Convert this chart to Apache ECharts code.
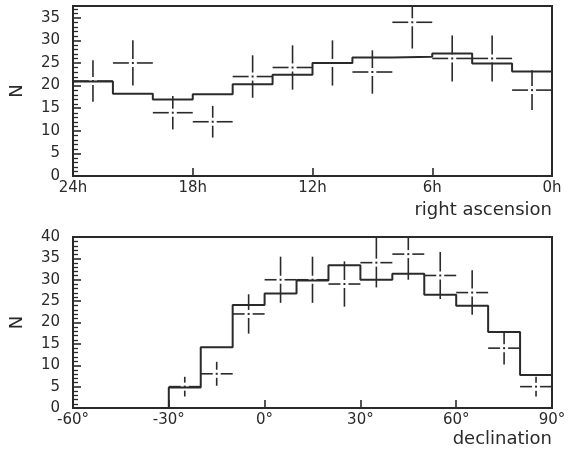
<!DOCTYPE html>
<html>
<head>
<meta charset="utf-8">
<script src="https://cdn.jsdelivr.net/npm/echarts@6/dist/echarts.min.js"></script>
<style>
html,body{margin:0;padding:0;background:#fff;}
#chart{width:575px;height:455px;}
</style>
</head>
<body>
<div id="chart"></div>
<script>
// ---- Right ascension panel (hours, 2h bins from 24h down to 0h) ----
var raBinEdges   = [24, 22, 20, 18, 16, 14, 12, 10, 8, 6, 4, 2, 0];
var raHist       = [20.9, 18.2, 16.9, 18.1, 20.3, 22.4, 25.0, 26.2, 26.4, 27.1, 24.9, 23.1];
var raBinCenters = [23, 21, 19, 17, 15, 13, 11, 9, 7, 5, 3, 1];
var raCounts     = [21, 25, 14, 12, 22, 24, 25, 23, 34, 26, 26, 19];
var raErrors     = [4.6, 5.0, 3.7, 3.5, 4.7, 4.9, 5.0, 4.8, 5.8, 5.1, 5.1, 4.4];
var raTicks      = [24, 18, 12, 6, 0];

// ---- Declination panel (degrees, 10 deg bins from -60 to 90) ----
var decBinEdges   = [-60, -50, -40, -30, -20, -10, 0, 10, 20, 30, 40, 50, 60, 70, 80, 90];
var decHist       = [0, 0, 0, 4.8, 14.2, 24.1, 26.8, 29.8, 33.4, 30.0, 31.4, 26.5, 23.9, 17.8, 7.7];
var decBinCenters = [-25, -15, -5, 5, 15, 25, 35, 45, 55, 65, 75, 85];
var decCounts     = [5, 8, 22, 30, 30, 29, 34, 36, 31, 27, 14, 5];
var decErrors     = [2.3, 2.8, 4.6, 5.4, 5.4, 5.3, 5.8, 6.0, 5.5, 5.2, 3.8, 2.3];
var decTicks      = [-60, -30, 0, 30, 60, 90];

// ---- minor tick values on the N axes ----
var nMinorTop    = [1, 2, 3, 4, 6, 7, 8, 9, 11, 12, 13, 14, 16, 17, 18, 19, 21, 22, 23, 24, 26, 27, 28, 29, 31, 32, 33, 34, 36, 37];
var nMinorBottom = [1, 2, 3, 4, 6, 7, 8, 9, 11, 12, 13, 14, 16, 17, 18, 19, 21, 22, 23, 24, 26, 27, 28, 29, 31, 32, 33, 34, 36, 37, 38, 39];

var INK = '#2a2a2a';
var FONT = 'DejaVu Sans';

function stepData(edges, vals) {
  var d = [];
  for (var i = 0; i < vals.length; i++) d.push([edges[i], vals[i]]);
  d.push([edges[edges.length - 1], vals[vals.length - 1]]);
  return d;
}
function crossData(c, n, e) {
  var d = [];
  for (var i = 0; i < c.length; i++) d.push([c[i], n[i], e[i]]);
  return d;
}
function tickData(xEdge, vals) {
  var d = [];
  for (var i = 0; i < vals.length; i++) d.push([xEdge, vals[i]]);
  return d;
}
function crossRender(halfWidth) {
  return function (params, api) {
    var x = api.value(0), y = api.value(1), e = api.value(2);
    var cs = params.coordSys;
    var c = api.coord([x, y]);
    var a = api.coord([x - halfWidth, y])[0], b = api.coord([x + halfWidth, y])[0];
    var l = Math.min(a, b), r = Math.max(a, b);
    var top = Math.max(api.coord([x, y + e])[1], cs.y);
    var bot = Math.min(api.coord([x, y - e])[1], cs.y + cs.height);
    var g = 4;
    var st = {stroke: INK, lineWidth: 1.6};
    var kids = [
      {type: 'line', shape: {x1: l, y1: c[1], x2: c[0] - g, y2: c[1]}, style: st},
      {type: 'line', shape: {x1: c[0] + g, y1: c[1], x2: r, y2: c[1]}, style: st},
      {type: 'line', shape: {x1: c[0], y1: top, x2: c[0], y2: c[1] - g}, style: st},
      {type: 'line', shape: {x1: c[0], y1: c[1] + g, x2: c[0], y2: bot}, style: st},
      {type: 'rect', shape: {x: c[0] - 1, y: c[1] - 1, width: 2, height: 2}, style: {fill: INK}}
    ];
    return {type: 'group', children: kids};
  };
}
function minorTickRender(params, api) {
  var p = api.coord([api.value(0), api.value(1)]);
  var x0 = params.coordSys.x;
  var py = Math.round(p[1]) + 0.5;
  return {type: 'line', shape: {x1: x0, y1: py, x2: x0 + 5, y2: py},
          style: {stroke: INK, lineWidth: 1.3}};
}

function xAxisDef(gi, min, max, ticks, suffix, inverse) {
  return {
    gridIndex: gi, type: 'value', min: min, max: max, interval: 6 * (suffix === 'h' ? 1 : 5),
    inverse: inverse, position: 'bottom',
    axisLine: {show: true, onZero: false, lineStyle: {color: INK, width: 2}},
    axisTick: {show: true, inside: true, length: 8, lineStyle: {color: INK, width: 1.6}},
    axisLabel: {
      margin: 5, fontSize: 15, fontFamily: FONT, color: INK,
      formatter: function (v) { return ticks.indexOf(v) >= 0 ? v + suffix : ''; }
    },
    splitLine: {show: false}
  };
}
function yMain(gi, max) {
  return {
    gridIndex: gi, type: 'value', min: 0, max: max, interval: 5, position: 'left',
    axisLine: {show: true, onZero: false, lineStyle: {color: INK, width: 2}},
    axisTick: {show: true, inside: true, length: 8, lineStyle: {color: INK, width: 1.6}},
    axisLabel: {
      margin: 13, fontSize: 15, fontFamily: FONT, color: INK,
      formatter: function (v) { return v % 5 === 0 ? String(v) : ''; }
    },
    splitLine: {show: false},
    name: 'N', nameLocation: 'middle', nameGap: 47, nameRotate: 90,
    nameTextStyle: {fontSize: 18, fontFamily: FONT, color: INK}
  };
}

var chart = echarts.init(document.getElementById('chart'), null, {renderer: 'canvas'});
chart.setOption({
  animation: false,
  backgroundColor: '#fff',
  grid: [
    {left: 73, right: 23, top: 6, height: 170, show: true, borderColor: INK, borderWidth: 2, containLabel: false},
    {left: 73, right: 23, top: 237, height: 171, show: true, borderColor: INK, borderWidth: 2, containLabel: false}
  ],
  xAxis: [
    xAxisDef(0, 0, 24, raTicks, 'h', true),
    xAxisDef(1, -60, 90, decTicks, '\u00b0', false)
  ],
  yAxis: [yMain(0, 37.6), yMain(1, 40)],
  graphic: [
    {type: 'text', right: 23, top: 201, style: {text: 'right ascension', font: '18px "DejaVu Sans"', fill: INK}},
    {type: 'text', right: 23, top: 430, style: {text: 'declination', font: '18px "DejaVu Sans"', fill: INK}}
  ],
  series: [
    {type: 'custom', xAxisIndex: 0, yAxisIndex: 0, renderItem: minorTickRender,
     data: tickData(24, nMinorTop), z: 5, silent: true},
    {type: 'custom', xAxisIndex: 1, yAxisIndex: 1, renderItem: minorTickRender,
     data: tickData(-60, nMinorBottom), z: 5, silent: true},
    {type: 'line', xAxisIndex: 0, yAxisIndex: 0, step: 'end', symbol: 'none',
     lineStyle: {color: INK, width: 2}, data: stepData(raBinEdges, raHist), z: 3},
    {type: 'custom', xAxisIndex: 0, yAxisIndex: 0, renderItem: crossRender(1),
     data: crossData(raBinCenters, raCounts, raErrors), z: 4},
    {type: 'line', xAxisIndex: 1, yAxisIndex: 1, step: 'end', symbol: 'none',
     lineStyle: {color: INK, width: 2}, data: stepData(decBinEdges, decHist), z: 3},
    {type: 'custom', xAxisIndex: 1, yAxisIndex: 1, renderItem: crossRender(5),
     data: crossData(decBinCenters, decCounts, decErrors), z: 4}
  ]
});
</script>
</body>
</html>
